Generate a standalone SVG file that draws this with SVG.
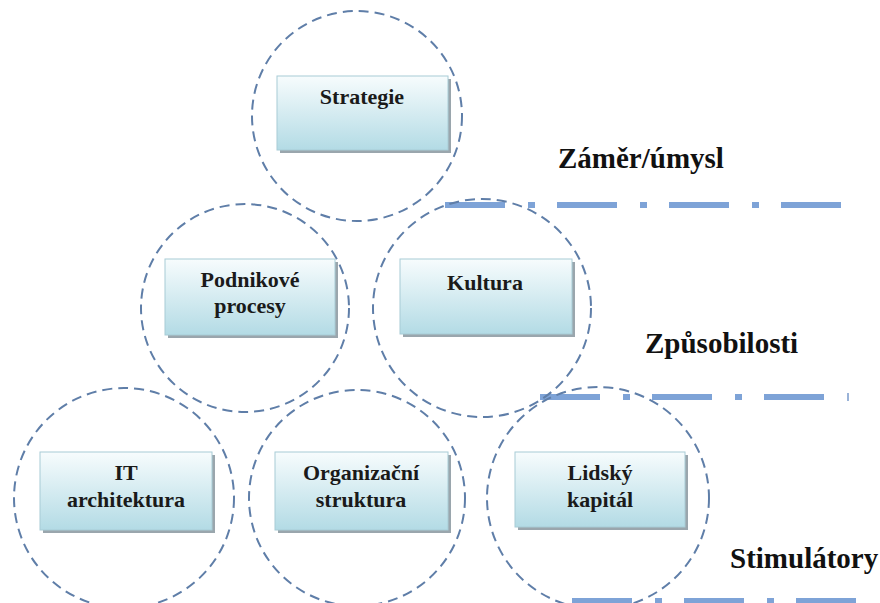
<svg xmlns="http://www.w3.org/2000/svg" width="880" height="603" viewBox="0 0 880 603">
<defs>
<linearGradient id="boxg" x1="0" y1="0" x2="0" y2="1">
<stop offset="0" stop-color="#f7fcfd"/>
<stop offset="1" stop-color="#b3dbe5"/>
</linearGradient>
</defs>
<style>
.circ{fill:none;stroke:#5f7ea8;stroke-width:2;stroke-dasharray:10 6}
.shadow{fill:#9aa6ad}
.box{fill:url(#boxg);stroke:#a8ccd6;stroke-width:1}
.bt{font-family:"Liberation Serif","Times New Roman",serif;font-weight:bold;font-size:22px;fill:#1a1a1a;text-anchor:middle}
.lbl{font-family:"Liberation Serif","Times New Roman",serif;font-weight:bold;font-size:29px;fill:#111}
.dd{stroke:#7ea3d7;stroke-width:6;fill:none;stroke-dasharray:60 23 7 22}
</style>
<rect width="880" height="603" fill="#fff"/>
<g id="connectors">
<line class="dd" x1="445" y1="205" x2="846" y2="205"/>
<line class="dd" x1="540" y1="397" x2="828" y2="397"/>
<line x1="848" y1="393" x2="848" y2="401" stroke="#9ab3d8" stroke-width="2"/>
<line class="dd" x1="572" y1="601" x2="858" y2="601"/>
</g>
<g id="strategie">
<circle class="circ" cx="357" cy="116" r="105"/>
<rect class="shadow" x="280" y="79" width="171" height="74"/>
<rect class="box" x="277" y="76" width="171" height="74"/>
<text class="bt" x="362" y="104">Strategie</text>
</g>
<g id="podnikove-procesy">
<circle class="circ" cx="245" cy="308" r="104"/>
<rect class="shadow" x="168" y="262" width="170" height="76"/>
<rect class="box" x="165" y="259" width="170" height="76"/>
<text class="bt" x="250" y="287">Podnikové</text>
<text class="bt" x="250" y="313">procesy</text>
</g>
<g id="kultura">
<circle class="circ" cx="482" cy="308" r="109"/>
<rect class="shadow" x="403" y="262" width="172" height="75"/>
<rect class="box" x="400" y="259" width="172" height="75"/>
<text class="bt" x="485" y="290">Kultura</text>
</g>
<g id="it-architektura">
<circle class="circ" cx="124" cy="498" r="110"/>
<rect class="shadow" x="43" y="455" width="172" height="78"/>
<rect class="box" x="40" y="452" width="172" height="78"/>
<text class="bt" x="126" y="480">IT</text>
<text class="bt" x="126" y="507">architektura</text>
</g>
<g id="organizacni-struktura">
<circle class="circ" cx="357" cy="498" r="108"/>
<rect class="shadow" x="278" y="455" width="173" height="78"/>
<rect class="box" x="275" y="452" width="173" height="78"/>
<text class="bt" x="361" y="480">Organizační</text>
<text class="bt" x="361" y="507">struktura</text>
</g>
<g id="lidsky-kapital">
<circle class="circ" cx="598" cy="498" r="111"/>
<rect class="shadow" x="518" y="455" width="170" height="75"/>
<rect class="box" x="515" y="452" width="170" height="75"/>
<text class="bt" x="600" y="480">Lidský</text>
<text class="bt" x="600" y="507">kapitál</text>
</g>
<g id="labels">
<text class="lbl" x="558" y="168">Záměr/úmysl</text>
<text class="lbl" x="645" y="353">Způsobilosti</text>
<text class="lbl" x="730" y="568">Stimulátory</text>
</g>
</svg>
